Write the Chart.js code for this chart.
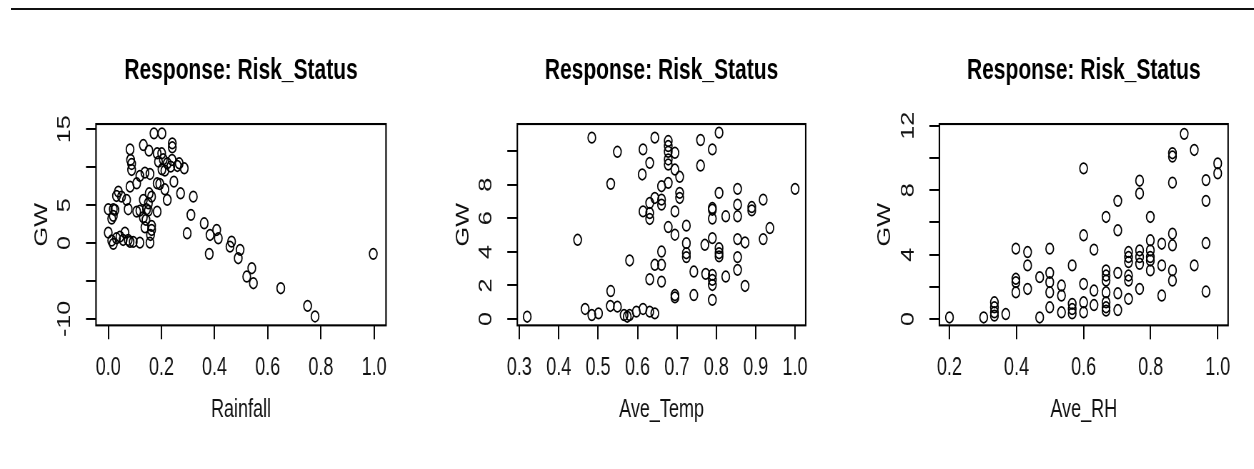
<!DOCTYPE html>
<html>
<head>
<meta charset="utf-8">
<script src="https://cdn.jsdelivr.net/npm/chart.js@4.4.1/dist/chart.umd.min.js"></script>
<style>
    body { margin: 0; background: #fff; width: 1254px; height: 469px; overflow: hidden; position: relative; }
    #rule { position: absolute; left: 11px; top: 8px; width: 1243px; border-top: 2px solid #111; }
    canvas { position: absolute; top: 0; }
</style>
</head>
<body>
<div id="rule"></div>
<canvas id="c1"></canvas>
<canvas id="c2"></canvas>
<canvas id="c3"></canvas>
<script>
// data
const rainfall = [0.172, 0.202, 0.132, 0.153, 0.082, 0.084, 0.088, 0.088, 0.184, 0.201, 0.189, 0.207, 0.222, 0.202, 0.213, 0.235, 0.241, 0.241, 0.240, 0.267,
    0.286, 0.260, 0.138, 0.157, 0.119, 0.107, 0.082, 0.247, 0.194, 0.184, 0.213, 0.272, 0.320, 0.222, 0.038, 0.031, 0.050, 0.069, 0.132, 0.154,
    0.151, 0.000, 0.019, 0.025, 0.013, 0.019, 0.075, 0.107, 0.119, 0.144, 0.151, 0.184, 0.132, 0.311, 0.138, 0.163, 0.159, 0.361, 0.297, 0.000,
    0.013, 0.019, 0.031, 0.044, 0.063, 0.056, 0.075, 0.082, 0.094, 0.119, 0.157, 0.383, 0.408, 0.414, 0.380, 0.464, 0.458, 0.496, 0.489, 0.540,
    0.521, 0.546, 0.649, 0.750, 0.778, 0.997, 0.163, 0.142, 0.163];
const rainGW = [14.47, 14.47, 12.93, 12.19, 12.36, 10.96, 10.43, 9.64, 11.84, 11.84, 10.74, 11.05, 10.52, 9.73, 9.55, 10.08, 13.15, 12.63, 10.96, 10.52,
    9.86, 10.17, 9.29, 9.11, 8.85, 7.88, 7.44, 8.10, 7.79, 7.88, 7.09, 6.56, 6.12, 5.69, 6.78, 6.21, 6.12, 5.69, 5.69, 6.56,
    5.25, 4.46, 4.46, 4.37, 3.23, 3.58, 4.46, 4.15, 4.28, 4.46, 4.28, 4.15, 3.40, 3.71, 2.08, 2.26, 1.07, 2.61, 1.29, 1.38,
    0.33, -0.11, 0.63, 0.85, 1.38, 0.41, 0.41, 0.15, 0.15, 0.06, 0.06, 1.07, 1.73, 0.63, -1.43, 0.19, -0.47, -0.90, -2.00, -3.32,
    -4.42, -5.30, -5.96, -8.29, -9.69, -1.43, 6.12, 3.05, 1.73];

const aveTemp = [0.320, 0.484, 0.549, 0.532, 0.448, 0.580, 0.532, 0.467, 0.484, 0.501, 0.531, 0.549, 0.566, 0.574, 0.580, 0.597, 0.614, 0.631, 0.644, 0.644,
    0.614, 0.631, 0.612, 0.678, 0.678, 0.678, 0.695, 0.678, 0.678, 0.695, 0.707, 0.760, 0.790, 0.807, 0.760, 0.661, 0.678, 0.644, 0.631, 0.661,
    0.661, 0.614, 0.631, 0.631, 0.707, 0.707, 0.695, 0.678, 0.695, 0.724, 0.661, 0.644, 0.661, 0.631, 0.661, 0.695, 0.695, 0.724, 0.724, 0.724,
    0.743, 0.743, 0.771, 0.773, 0.790, 0.790, 0.790, 0.790, 0.790, 0.807, 0.807, 0.807, 0.824, 0.807, 0.790, 0.790, 0.790, 0.824, 0.854, 0.854,
    0.854, 0.854, 0.873, 0.854, 0.854, 0.873, 0.890, 0.890, 0.919, 0.936, 0.919, 1.000];
const tempGW = [0.14, 10.80, 9.96, 8.05, 4.72, 3.49, 1.67, 0.60, 0.24, 0.34, 0.78, 0.74, 0.24, 0.14, 0.24, 0.44, 0.60, 0.44, 0.34, 10.80,
    10.10, 9.30, 8.61, 10.60, 10.30, 9.96, 9.90, 9.50, 9.20, 8.90, 8.47, 10.66, 10.10, 11.10, 9.14, 7.91, 8.11, 7.21, 6.91, 7.11,
    6.81, 6.41, 6.31, 5.96, 7.51, 7.21, 6.41, 5.48, 5.02, 5.56, 4.02, 3.23, 3.23, 2.37, 2.23, 1.43, 1.29, 4.52, 3.92, 3.69,
    2.83, 1.43, 4.42, 2.69, 4.82, 2.63, 2.33, 2.03, 1.14, 4.22, 3.92, 3.73, 2.53, 7.51, 6.61, 6.51, 5.98, 6.12, 7.75, 6.81,
    6.12, 4.76, 4.56, 3.69, 2.93, 1.97, 6.67, 6.47, 7.11, 5.42, 4.76, 7.75];

const aveRH = [0.200, 0.302, 0.334, 0.334, 0.334, 0.334, 0.368, 0.398, 0.433, 0.398, 0.398, 0.398, 0.433, 0.433, 0.469, 0.469, 0.499, 0.499, 0.499, 0.499,
    0.499, 0.534, 0.534, 0.534, 0.566, 0.566, 0.566, 0.566, 0.600, 0.600, 0.600, 0.600, 0.600, 0.631, 0.631, 0.631, 0.667, 0.667, 0.667, 0.667,
    0.667, 0.667, 0.667, 0.667, 0.702, 0.702, 0.702, 0.702, 0.702, 0.734, 0.734, 0.734, 0.734, 0.734, 0.734, 0.767, 0.767, 0.767, 0.767, 0.767,
    0.767, 0.799, 0.799, 0.799, 0.799, 0.799, 0.799, 0.833, 0.833, 0.833, 0.865, 0.865, 0.865, 0.865, 0.865, 0.865, 0.865, 0.900, 0.930, 0.930,
    0.965, 0.965, 0.965, 0.965, 1.000, 1.000];
const rhGW = [0.10, 0.10, 1.04, 0.73, 0.42, 0.21, 0.31, 4.37, 4.16, 2.50, 2.29, 1.66, 3.33, 1.87, 2.60, 0.10, 4.37, 2.87, 2.29, 1.66,
    0.73, 2.08, 1.46, 0.42, 3.33, 0.94, 0.62, 0.35, 9.36, 5.20, 2.18, 1.04, 0.42, 4.31, 1.77, 0.87, 6.34, 3.02, 2.70, 2.39,
    1.66, 1.04, 0.73, 0.52, 7.34, 5.51, 2.87, 1.60, 0.56, 4.16, 3.85, 3.54, 2.70, 2.39, 1.25, 8.59, 7.80, 4.26, 3.85, 3.43,
    1.87, 6.34, 4.89, 4.26, 3.85, 3.64, 3.02, 4.68, 3.33, 1.46, 10.30, 10.09, 8.47, 5.30, 4.58, 3.02, 2.39, 11.50, 10.50, 3.33,
    8.63, 7.34, 4.72, 1.71, 9.67, 9.05];

const titleText = 'Response: Risk_Status';
const xNames = ['Rainfall', 'Ave_Temp', 'Ave_RH'];
const yLabels1 = [15, 5, 0, -10];
const yLabels2 = [0, 2, 4, 6, 8];
const yLabels3 = [0, 4, 8, 12];

// the picture is stretched vertically, so draw at 1/1.4 height and let css stretch it
const STRETCH = 1.4;
const H = 469 / STRETCH;
const FONT = "'Liberation Sans', Arial, sans-serif";

const frame = {
    id: 'frame',
    afterDraw(chart) {
        const a = chart.chartArea;
        const ctx = chart.ctx;
        ctx.save();
        ctx.strokeStyle = '#000';
        ctx.lineWidth = 1.5;
        ctx.strokeRect(a.left, a.top, a.right - a.left, a.bottom - a.top);
        ctx.restore();
    }
};

const makePanel = (id, p) => {
    const cv = document.getElementById(id);
    cv.width = p.width;
    cv.height = H;
    cv.style.left = p.left + 'px';
    cv.style.width = p.width + 'px';
    cv.style.height = '469px';

    new Chart(cv, {
        type: 'scatter',
        data: {
            datasets: [{
                data: p.xs.map((x, i) => ({x: x, y: p.ys[i]})),
                pointStyle: 'circle',
                pointRadius: 3.8,
                borderWidth: 1.25,
                borderColor: '#000',
                backgroundColor: 'rgba(0,0,0,0)'
            }]
        },
        options: {
            responsive: false,
            animation: false,
            devicePixelRatio: STRETCH,
            layout: {padding: {left: 0, right: p.rightPad, top: 0, bottom: 0}},
            plugins: {
                legend: {display: false},
                tooltip: {enabled: false},
                title: {
                    display: true,
                    text: titleText,
                    fullSize: false,
                    color: '#000',
                    font: {family: FONT, size: 21, weight: 'bold'},
                    padding: {top: 38.1, bottom: 25.3}
                }
            },
            scales: {
                x: {
                    type: 'linear',
                    min: p.xMin,
                    max: p.xMax,
                    border: {display: false},
                    grid: {drawOnChartArea: false, drawTicks: true, tickLength: 10, color: '#000', lineWidth: 1.4},
                    ticks: {
                        stepSize: p.xStep,
                        includeBounds: false,
                        autoSkip: false,
                        maxRotation: 0,
                        padding: 9.6,
                        color: '#111',
                        font: {family: FONT, size: 18},
                        callback: v => v.toFixed(1)
                    },
                    title: {
                        display: true,
                        text: p.xName,
                        color: '#111',
                        font: {family: FONT, size: 18},
                        padding: {top: 0, bottom: 31.3}
                    },
                    afterFit: s => {
                        s.height = H - 232.4;
                        s.paddingLeft = 0;
                        s.paddingRight = 0;
                    }
                },
                y: {
                    type: 'linear',
                    min: p.yMin,
                    max: p.yMax,
                    border: {display: false},
                    grid: {drawOnChartArea: false, drawTicks: true, tickLength: 10, color: '#000', lineWidth: 1.4},
                    ticks: {
                        stepSize: p.yStep,
                        includeBounds: false,
                        autoSkip: false,
                        minRotation: 90,
                        maxRotation: 90,
                        crossAlign: 'center',
                        padding: p.yTickPad,
                        color: '#111',
                        font: {family: FONT, size: 18},
                        callback: v => p.yLabels.includes(Math.round(v)) ? String(Math.round(v)) : ''
                    },
                    title: {
                        display: true,
                        text: 'GW',
                        color: '#111',
                        font: {family: FONT, size: 18},
                        padding: {top: p.yTitlePad, bottom: 0}
                    },
                    afterFit: s => {
                        s.width = p.yWidth;
                        s.paddingTop = 0;
                        s.paddingBottom = 0;
                    }
                }
            }
        },
        plugins: [frame]
    });
};

makePanel('c1', {
    left: 0, width: 430, yWidth: 96, rightPad: 44,
    xs: rainfall, ys: rainGW, xName: xNames[0],
    xMin: -0.046, xMax: 1.045, xStep: 0.2,
    yMin: -10.86, yMax: 15.70, yStep: 5, yLabels: yLabels1,
    yTickPad: 8, yTitlePad: 31.2
});
makePanel('c2', {
    left: 430, width: 420, yWidth: 87.3, rightPad: 44.3,
    xs: aveTemp, ys: tempGW, xName: xNames[1],
    xMin: 0.2949, xMax: 1.027, xStep: 0.1,
    yMin: -0.375, yMax: 11.61, yStep: 2, yLabels: yLabels2,
    yTickPad: 16, yTitlePad: 22.5
});
makePanel('c3', {
    left: 850, width: 404, yWidth: 89.3, rightPad: 26.3,
    xs: aveRH, ys: rhGW, xName: xNames[2],
    xMin: 0.170, xMax: 1.031, xStep: 0.2,
    yMin: -0.392, yMax: 12.11, yStep: 2, yLabels: yLabels3,
    yTickPad: 11, yTitlePad: 24.5
});
</script>
</body>
</html>
